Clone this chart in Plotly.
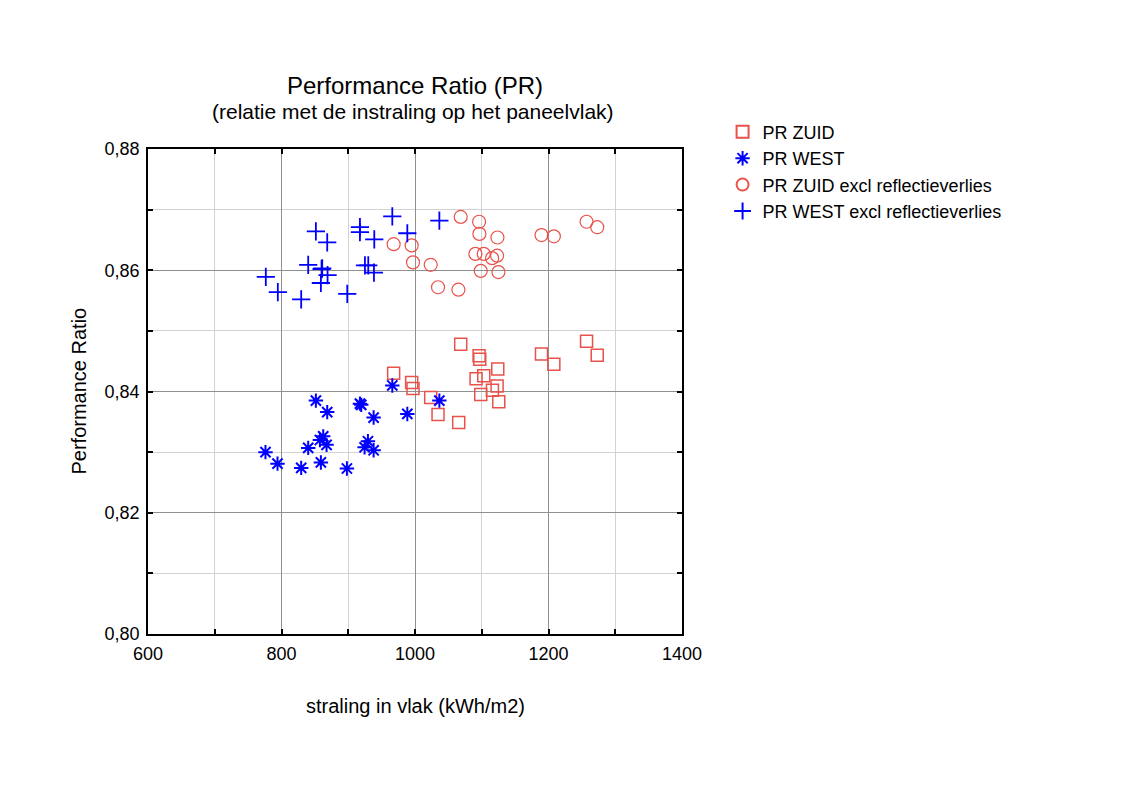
import plotly.graph_objects as go

# ---- data ----
zuid_x = [968, 995, 997, 1023.5, 1034.5, 1068.5, 1065.5, 1096, 1097, 1091.5,
          1103, 1098.5, 1116, 1123, 1124, 1125.5, 1189.5, 1208, 1257, 1273]
zuid_y = [0.8430, 0.8415, 0.8405, 0.8390, 0.8362, 0.8478, 0.8349, 0.8459, 0.8453, 0.8421,
          0.8426, 0.8395, 0.8402, 0.8409, 0.8437, 0.8383, 0.8462, 0.8445, 0.8483, 0.8460]

west_x = [776, 794, 829.5, 840, 851.5, 859, 857.5, 862.5, 867.5, 868.5,
          898, 917.5, 919.5, 924.5, 929.5, 938, 938, 966, 988.5, 1036.5]
west_y = [0.8300, 0.8281, 0.8274, 0.8307, 0.8385, 0.8283, 0.8320, 0.8326, 0.8312, 0.8366,
          0.8273, 0.8380, 0.8378, 0.8308, 0.8318, 0.8303, 0.8357, 0.8410, 0.8363, 0.8385]

zuid_excl_x = [968, 995, 997, 1023.5, 1034.5, 1065, 1068.5, 1096, 1096.5, 1123.5,
               1090.5, 1103, 1115.5, 1123, 1098.5, 1125, 1189.5, 1208, 1257, 1273]
zuid_excl_y = [0.8643, 0.8641, 0.8613, 0.8609, 0.8572, 0.8568, 0.8688, 0.8680, 0.8660, 0.8654,
               0.8627, 0.8627, 0.8620, 0.8624, 0.8599, 0.8597, 0.8658, 0.8656, 0.8680, 0.8671]

west_excl_x = [776.5, 794.5, 829.5, 840, 851.5, 859, 860, 861, 869, 868.5,
               898.5, 917.5, 917.5, 939, 925, 930, 938.5, 966, 988.5, 1036.5]
west_excl_y = [0.8589, 0.8564, 0.8552, 0.8609, 0.8664, 0.8579, 0.8602, 0.8603, 0.8592, 0.8646,
               0.8561, 0.8671, 0.8663, 0.8651, 0.8608, 0.8608, 0.8596, 0.8689, 0.8661, 0.8682]

names = ["PR ZUID", "PR WEST", "PR ZUID excl reflectieverlies", "PR WEST excl reflectieverlies"]
title_text = "Performance Ratio (PR)"
subtitle_text = "(relatie met de instraling op het paneelvlak)"
x_title = "straling in vlak (kWh/m2)"
y_title = "Performance Ratio"

RED = "#e8524a"
BLUE = "#0000ff"
FONT = "Liberation Sans, Arial, Helvetica, sans-serif"

fig = go.Figure()
fig.add_trace(go.Scatter(x=zuid_x, y=zuid_y, mode="markers", name=names[0],
                         marker=dict(symbol="square-open", size=12, color=RED, line=dict(width=1.5))))
fig.add_trace(go.Scatter(x=west_x, y=west_y, mode="markers", name=names[1],
                         marker=dict(symbol="asterisk-open", size=12, color=BLUE, line=dict(width=2, color=BLUE))))
fig.add_trace(go.Scatter(x=zuid_excl_x, y=zuid_excl_y, mode="markers", name=names[2],
                         marker=dict(symbol="circle-open", size=13, color=RED, line=dict(width=1.2))))
fig.add_trace(go.Scatter(x=west_excl_x, y=west_excl_y, mode="markers", name=names[3],
                         marker=dict(symbol="cross-thin-open", size=13, color=BLUE, line=dict(width=1.8, color=BLUE))))

axis_common = dict(
    showline=True, linecolor="black", linewidth=1.5, mirror="ticks",
    ticks="inside", ticklen=5, tickwidth=1.5, tickcolor="black",
    showgrid=True, gridcolor="#8f8f8f", gridwidth=1,
    zeroline=False, ticklabelstandoff=3,
    tickfont=dict(family=FONT, size=18, color="black"),
)

fig.update_xaxes(range=[600, 1400], dtick=200, tick0=600, tickformat="d",
                 minor=dict(dtick=100, showgrid=True, gridcolor="#d2d2d2", gridwidth=1,
                            ticks="inside", ticklen=5, tickcolor="black"),
                 **axis_common)
fig.update_yaxes(range=[0.80, 0.88], dtick=0.02, tick0=0.80, tickformat=".2f",
                 minor=dict(dtick=0.01, showgrid=True, gridcolor="#d2d2d2", gridwidth=1,
                            ticks="inside", ticklen=5, tickcolor="black"),
                 **axis_common)

# the page body adds an 8px offset, so margins are shifted by 8px
fig.update_layout(
    width=1121, height=793,
    separators=",.",
    paper_bgcolor="white", plot_bgcolor="white",
    margin=dict(l=140, r=447, t=141, b=167),
    font=dict(family=FONT, color="black"),
    legend=dict(x=1.076, y=1.073, xanchor="left", yanchor="top",
                font=dict(family=FONT, size=18, color="black"),
                bgcolor="rgba(0,0,0,0)", tracegroupgap=0, itemsizing="constant"),
    showlegend=True,
    annotations=[
        dict(text=title_text, xref="paper", yref="paper", x=0.5, y=1.131,
             xanchor="center", yanchor="middle", showarrow=False,
             font=dict(family=FONT, size=24, color="black")),
        dict(text=subtitle_text, xref="paper", yref="paper", x=0.497, y=1.078,
             xanchor="center", yanchor="middle", showarrow=False,
             font=dict(family=FONT, size=21, color="black")),
        dict(text=x_title, xref="paper", yref="paper", x=0.5, y=-0.148,
             xanchor="center", yanchor="middle", showarrow=False,
             font=dict(family=FONT, size=20, color="black")),
        dict(text=y_title, xref="paper", yref="paper", x=-0.131, y=0.5,
             xanchor="center", yanchor="middle", showarrow=False, textangle=-90,
             font=dict(family=FONT, size=20, color="black")),
    ],
)

fig.write_html("out.html")
